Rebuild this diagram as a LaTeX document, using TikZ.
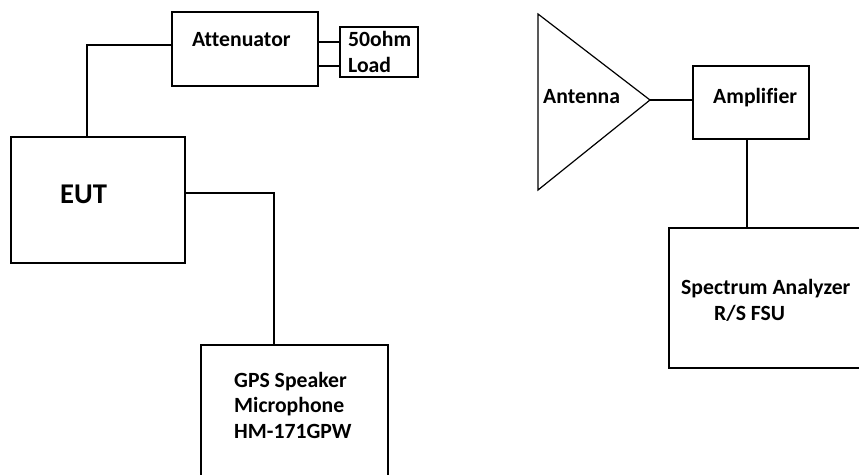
\documentclass[tikz,border=0pt]{standalone}
\usepackage{fontspec}
\setmainfont{Carlito}[Ligatures=NoCommon]
\usetikzlibrary{positioning,calc}

\begin{document}
\begin{tikzpicture}[x=1pt, y=-1pt,
  box/.style={draw, line width=1.2pt, inner sep=0pt, minimum width=#1},
  lbl/.style={font=\fontsize{21.7}{25.5}\selectfont\bfseries, inner sep=0pt, anchor=base west, align=left},
  big/.style={font=\fontsize{28.6}{32}\selectfont\bfseries, inner sep=0pt, anchor=base west},
  wire/.style={line width=1.2pt},
]
\clip (0,0) rectangle (859,474);

% ---------------- left set-up ----------------
\node[box=146pt, minimum height=74pt]  (att)  at (245,49)    {};
\node[box=78pt,  minimum height=50pt]  (load) at (379,52)    {};
\node[box=174pt, minimum height=126pt] (eut)  at (98,200)    {};
\node[box=187pt, minimum height=145pt] (gps)  at (294.5,417.5) {};

\node[lbl] (attT)  at (192,46)  {Attenuator};
\node[lbl] (loadT) at (348,46)  {50ohm};
\node[lbl] (loadB) at (348,72)  {Load};
\node[big] (eutT)  at (60,203)  {EUT};
\node[lbl, anchor=north west] (gpsT) at (234,372) {GPS Speaker\\Microphone\\HM-171GPW};

\draw[wire] ([yshift=7pt]att.east)   -- ([yshift=7pt]att.east -| load.west);
\draw[wire] ([yshift=-17pt]att.east) -- ([yshift=-17pt]att.east -| load.west);
\draw[wire] ([xshift=-11pt]eut.north) |- ([yshift=4pt]att.west);
\draw[wire] ([yshift=7pt]eut.east) -| ([xshift=-20.5pt]gps.north);

% ---------------- right set-up ----------------
\coordinate (anttop) at (538,14);
\coordinate (antbot) at (538,190);
\coordinate (antapex) at (650,100);
\draw[wire] (anttop) -- (antapex) -- (antbot) -- cycle;

\node[box=116pt, minimum height=73pt]  (amp)  at (751,102.5) {};
\node[box=201pt, minimum height=140pt] (spec) at (769.5,298)  {};

\node[lbl] (antT)  at (543,103) {Antenna};
\node[lbl] (ampT)  at (713,103) {Amplifier};
\node[lbl] (specT) at (681,294) {Spectrum Analyzer};
\node[lbl] (specB) at (714,320) {R/S FSU};

\draw[wire] (antapex) -- (antapex -| amp.west);
\draw[wire] ([xshift=-4pt]amp.south) -- ([xshift=-4pt]amp.south |- spec.north);

\end{tikzpicture}
\end{document}
